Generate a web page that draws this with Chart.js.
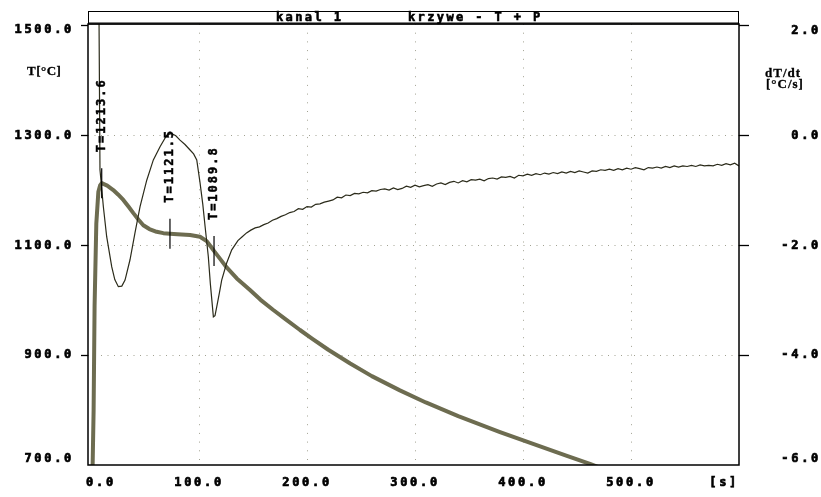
<!DOCTYPE html>
<html><head><meta charset="utf-8">
<script src="https://cdn.jsdelivr.net/npm/chart.js@4"></script>
<style>html,body{margin:0;padding:0;background:#fff}canvas{display:block}</style>
</head><body>
<canvas id="c" width="821" height="497"></canvas>
<script>
// ---- data ----
const TIME_T = [1.4, 2.4, 3.3, 4.9, 6.8, 8.5, 9.9, 15, 20.6, 25, 29.9, 35, 39.2, 44, 48.4, 54, 60.8, 67, 73.1, 80, 91.7, 100.9, 107.1, 110.5, 114, 119, 125.6, 135, 147.2, 157, 168.8, 180, 193.5, 205, 219.7, 240, 260, 286, 310, 340, 378.7, 410, 440, 462, 470];
const TEMP_T = [690, 800, 990, 1140, 1198, 1210, 1213.6, 1209, 1201, 1193, 1183, 1170, 1159, 1147, 1137, 1130, 1125, 1122.5, 1121.5, 1120.5, 1119.2, 1116, 1108, 1099, 1089.8, 1077, 1060, 1040, 1019, 1001, 982.5, 966, 946, 930, 910, 885, 862, 836, 814, 789, 760, 738, 717, 702, 696];

const TIME_D = [6.8, 8.3, 11.4, 14.5, 19.2, 22.0, 25.3, 28.5, 31.5, 36.1, 40.7, 45.4, 51.6, 57.7, 63.9, 70.1, 74.7, 78.5, 82.4, 87.0, 91.7, 95.0, 97.9, 100.9, 103.5, 105.6, 108.6, 110.5, 113.3, 114.8, 116.4, 119.0, 121.0, 125.6, 130.3,
  136, 140, 144, 148, 152, 156, 160, 164, 168, 172, 176, 180, 184, 188, 192, 196, 200, 204, 208, 212, 216, 220, 224, 228, 232, 236, 240, 244, 248, 252, 256, 260, 264, 268, 272, 276, 280, 284, 288, 292, 296, 300,
  304, 308, 312, 316, 320, 324, 328, 332, 336, 340, 344, 348, 352, 356, 360, 364, 368, 372, 376, 380, 384, 388, 392, 396, 400, 404, 408, 412, 416, 420, 424, 428, 432, 436, 440, 444, 448, 452, 456, 460,
  464, 468, 472, 476, 480, 484, 488, 492, 496, 500, 504, 508, 512, 516, 520, 524, 528, 532, 536, 540, 544, 548, 552, 556, 560, 564, 568, 572, 576, 580, 584, 588, 592, 596, 600];
const RATE_D = [4.0, -0.62, -1.29, -1.84, -2.39, -2.62, -2.75, -2.74, -2.63, -2.26, -1.77, -1.29, -0.81, -0.44, -0.20, 0.01, 0.04, 0.00, -0.08, -0.16, -0.26, -0.33, -0.44, -0.85, -1.25, -1.65, -2.20, -2.70, -3.30, -3.28, -3.12, -2.85, -2.63, -2.32, -2.08,
  -1.91, -1.84, -1.77, -1.72, -1.68, -1.66, -1.62, -1.59, -1.54, -1.51, -1.47, -1.44, -1.40, -1.38, -1.33, -1.34, -1.29, -1.30, -1.25, -1.24, -1.21, -1.19, -1.17, -1.12, -1.13, -1.08, -1.09, -1.05, -1.06, -1.03, -1.04, -1.00, -1.01, -0.98, -0.97, -0.99, -0.95, -0.98, -0.96, -0.92, -0.94, -0.90,
  -0.93, -0.91, -0.89, -0.92, -0.88, -0.86, -0.89, -0.85, -0.83, -0.86, -0.82, -0.84, -0.80, -0.81, -0.79, -0.82, -0.78, -0.77, -0.79, -0.75, -0.76, -0.74, -0.77, -0.72, -0.73, -0.70, -0.72, -0.69, -0.71, -0.68, -0.70, -0.67, -0.69, -0.66, -0.68, -0.65, -0.67, -0.64, -0.66, -0.68,
  -0.64, -0.65, -0.62, -0.63, -0.61, -0.63, -0.60, -0.62, -0.59, -0.61, -0.58, -0.60, -0.62, -0.58, -0.59, -0.57, -0.59, -0.56, -0.58, -0.55, -0.57, -0.55, -0.56, -0.54, -0.56, -0.53, -0.55, -0.54, -0.55, -0.52, -0.54, -0.51, -0.53, -0.50, -0.55];

const X_TICKS = [0, 100, 200, 300, 400, 500, 600];
const X_LABELS = ['  0.0', '100.0', '200.0', '300.0', '400.0', '500.0', '[s]   '];
const Y_TICKS = [700, 900, 1100, 1300, 1500];
const Y_LABELS = ['700.0', '900.0', '1100.0', '1300.0', '1500.0'];
const Y2_TICKS = [-6, -4, -2, 0, 2];
const Y2_LABELS = ['-6.0', '-4.0', '-2.0', '0.0', '2.0'];
const MARK_TIMES = [9.9, 73.1, 113.9];
const MARK_TEMPS = [1213.6, 1121.5, 1089.8];
const TITLE_LEFT = 'kanal 1';
const TITLE_RIGHT = 'krzywe - T + P';
const Y_TITLE = 'T[°C]';
const Y2_TITLE = ['dT/dt', '[°C/s]'];

// ---- styling ----
const MONO = '"DejaVu Sans Mono", "Liberation Mono", monospace';
const SERIF = '"Liberation Serif", "DejaVu Serif", serif';
const GRID = '#a2a292';
const NONE = 'rgba(0,0,0,0)';
const SPACING = '2.7px';

const tickFont = (c, ticks, topLh, botLh) => {
  let lh = '12px';
  const v = c && c.tick ? c.tick.value : null;
  if (v === ticks[0]) lh = botLh;
  if (v === ticks[ticks.length - 1]) lh = topLh;
  return {family: MONO, size: 12, weight: 'bold', lineHeight: lh};
};

function boldText(ctx, s, x, y, w) {
  ctx.lineWidth = w;
  ctx.strokeText(s, x, y);
  ctx.fillText(s, x, y);
}

const deco = {
  id: 'deco',
  beforeLayout(chart) { chart.ctx.letterSpacing = SPACING; },
  beforeDraw(chart) { chart.ctx.letterSpacing = SPACING; },
  afterDraw(chart) {
    const {ctx, chartArea: a, scales} = chart;
    const xs = scales.x, ys = scales.y;
    ctx.save();
    ctx.strokeStyle = '#000';
    ctx.fillStyle = '#000';
    // plot frame
    ctx.lineWidth = 1.5;
    ctx.strokeRect(a.left, a.top, a.right - a.left, a.bottom - a.top);
    // title bar
    ctx.lineWidth = 1;
    ctx.strokeRect(a.left + 0.5, 11.5, a.right - a.left - 1, a.top - 11.5);
    ctx.beginPath(); ctx.moveTo(a.left, a.top - 1); ctx.lineTo(a.right, a.top - 1); ctx.stroke();
    ctx.font = 'bold 12px ' + MONO;
    ctx.letterSpacing = '2.4px';
    ctx.textBaseline = 'alphabetic';
    ctx.textAlign = 'left';
    boldText(ctx, TITLE_LEFT, 276, 21, 0.6);
    boldText(ctx, TITLE_RIGHT, 408, 21, 0.6);
    // axis titles
    ctx.font = 'bold 13px ' + SERIF;
    ctx.letterSpacing = '0.5px';
    boldText(ctx, Y_TITLE, 27, 75, 0.3);
    ctx.letterSpacing = '1px';
    boldText(ctx, Y2_TITLE[0], 765, 77, 0.3);
    boldText(ctx, Y2_TITLE[1], 766, 88, 0.3);
    // markers
    ctx.font = 'bold 12px ' + MONO;
    ctx.letterSpacing = '2px';
    ctx.textBaseline = 'middle';
    MARK_TIMES.forEach((t, i) => {
      const px = xs.getPixelForValue(t);
      const py = ys.getPixelForValue(MARK_TEMPS[i]);
      ctx.lineWidth = 1.2;
      ctx.beginPath(); ctx.moveTo(px, py - 15); ctx.lineTo(px, py + 15); ctx.stroke();
      ctx.save();
      ctx.translate(px, py - 31);
      ctx.rotate(-Math.PI / 2);
      boldText(ctx, 'T=' + MARK_TEMPS[i].toFixed(1), 0, 0, 0.5);
      ctx.restore();
    });
    ctx.restore();
    ctx.letterSpacing = SPACING;
  }
};

const tickStyle = {color: '#000', textStrokeColor: '#000', textStrokeWidth: 0.7};

new Chart(document.getElementById('c'), {
  type: 'line',
  data: {
    datasets: [
      {label: 'T', data: TIME_T.map((t, i) => ({x: t, y: TEMP_T[i]})), yAxisID: 'y',
       borderColor: '#6d6c50', borderWidth: 4, pointRadius: 0, tension: 0, order: 1, borderJoinStyle: 'round'},
      {label: 'dT/dt', data: TIME_D.map((t, i) => ({x: t, y: RATE_D[i]})), yAxisID: 'y2',
       borderColor: '#2b2b1a', borderWidth: 1.2, pointRadius: 0, tension: 0, order: 0}
    ]
  },
  options: {
    responsive: false,
    animation: false,
    devicePixelRatio: 1,
    layout: {padding: {top: 24, left: 0, right: 0, bottom: 0}},
    plugins: {legend: {display: false}, tooltip: {enabled: false}},
    scales: {
      x: {
        type: 'linear', min: -2.8, max: 600,
        afterBuildTicks: s => { s.ticks = X_TICKS.map(v => ({value: v})); },
        afterFit: s => { s.height = 32; },
        grid: {color: c => (c.tick && (c.tick.value === 0 || c.tick.value === 600)) ? NONE : GRID, lineWidth: 1, drawTicks: false},
        border: {display: false, dash: [1, 7.7]},
        ticks: Object.assign({autoSkip: false, maxRotation: 0, minRotation: 0, padding: 11,
                font: {family: MONO, size: 12, weight: 'bold'}, callback: (v, i) => X_LABELS[i]}, tickStyle)
      },
      y: {
        position: 'left', min: 700, max: 1503.64,
        afterBuildTicks: s => { s.ticks = Y_TICKS.map(v => ({value: v})); },
        afterFit: s => { s.width = 88; },
        grid: {color: c => (c.tick && (c.tick.value === 700 || c.tick.value === 1500)) ? NONE : GRID,
               tickColor: c => (c.tick && c.tick.value === 700) ? NONE : '#000',
               tickLength: 7, tickWidth: 1.3, tickBorderDash: [], lineWidth: 1},
        border: {display: false, dash: [1, 5.5]},
        ticks: Object.assign({padding: 7, font: c => tickFont(c, Y_TICKS, '8px', '12px'),
                callback: (v, i) => i === Y_LABELS.length - 1 ? ['', Y_LABELS[i]] : (i === 0 ? [Y_LABELS[i], ''] : Y_LABELS[i])}, tickStyle)
      },
      y2: {
        position: 'right', min: -6, max: 2.0364,
        afterBuildTicks: s => { s.ticks = Y2_TICKS.map(v => ({value: v})); },
        afterFit: s => { s.width = 82; },
        grid: {drawOnChartArea: false, tickColor: c => (c.tick && c.tick.value === -6) ? NONE : '#000',
               tickLength: 10, tickWidth: 1.3, tickBorderDash: []},
        border: {display: false},
        ticks: Object.assign({crossAlign: 'far', padding: 4, font: c => tickFont(c, Y2_TICKS, '10px', '12px'),
                callback: (v, i) => i === Y2_LABELS.length - 1 ? ['', Y2_LABELS[i]] : (i === 0 ? [Y2_LABELS[i], ''] : Y2_LABELS[i])}, tickStyle)
      }
    }
  },
  plugins: [deco]
});
</script>
</body></html>
